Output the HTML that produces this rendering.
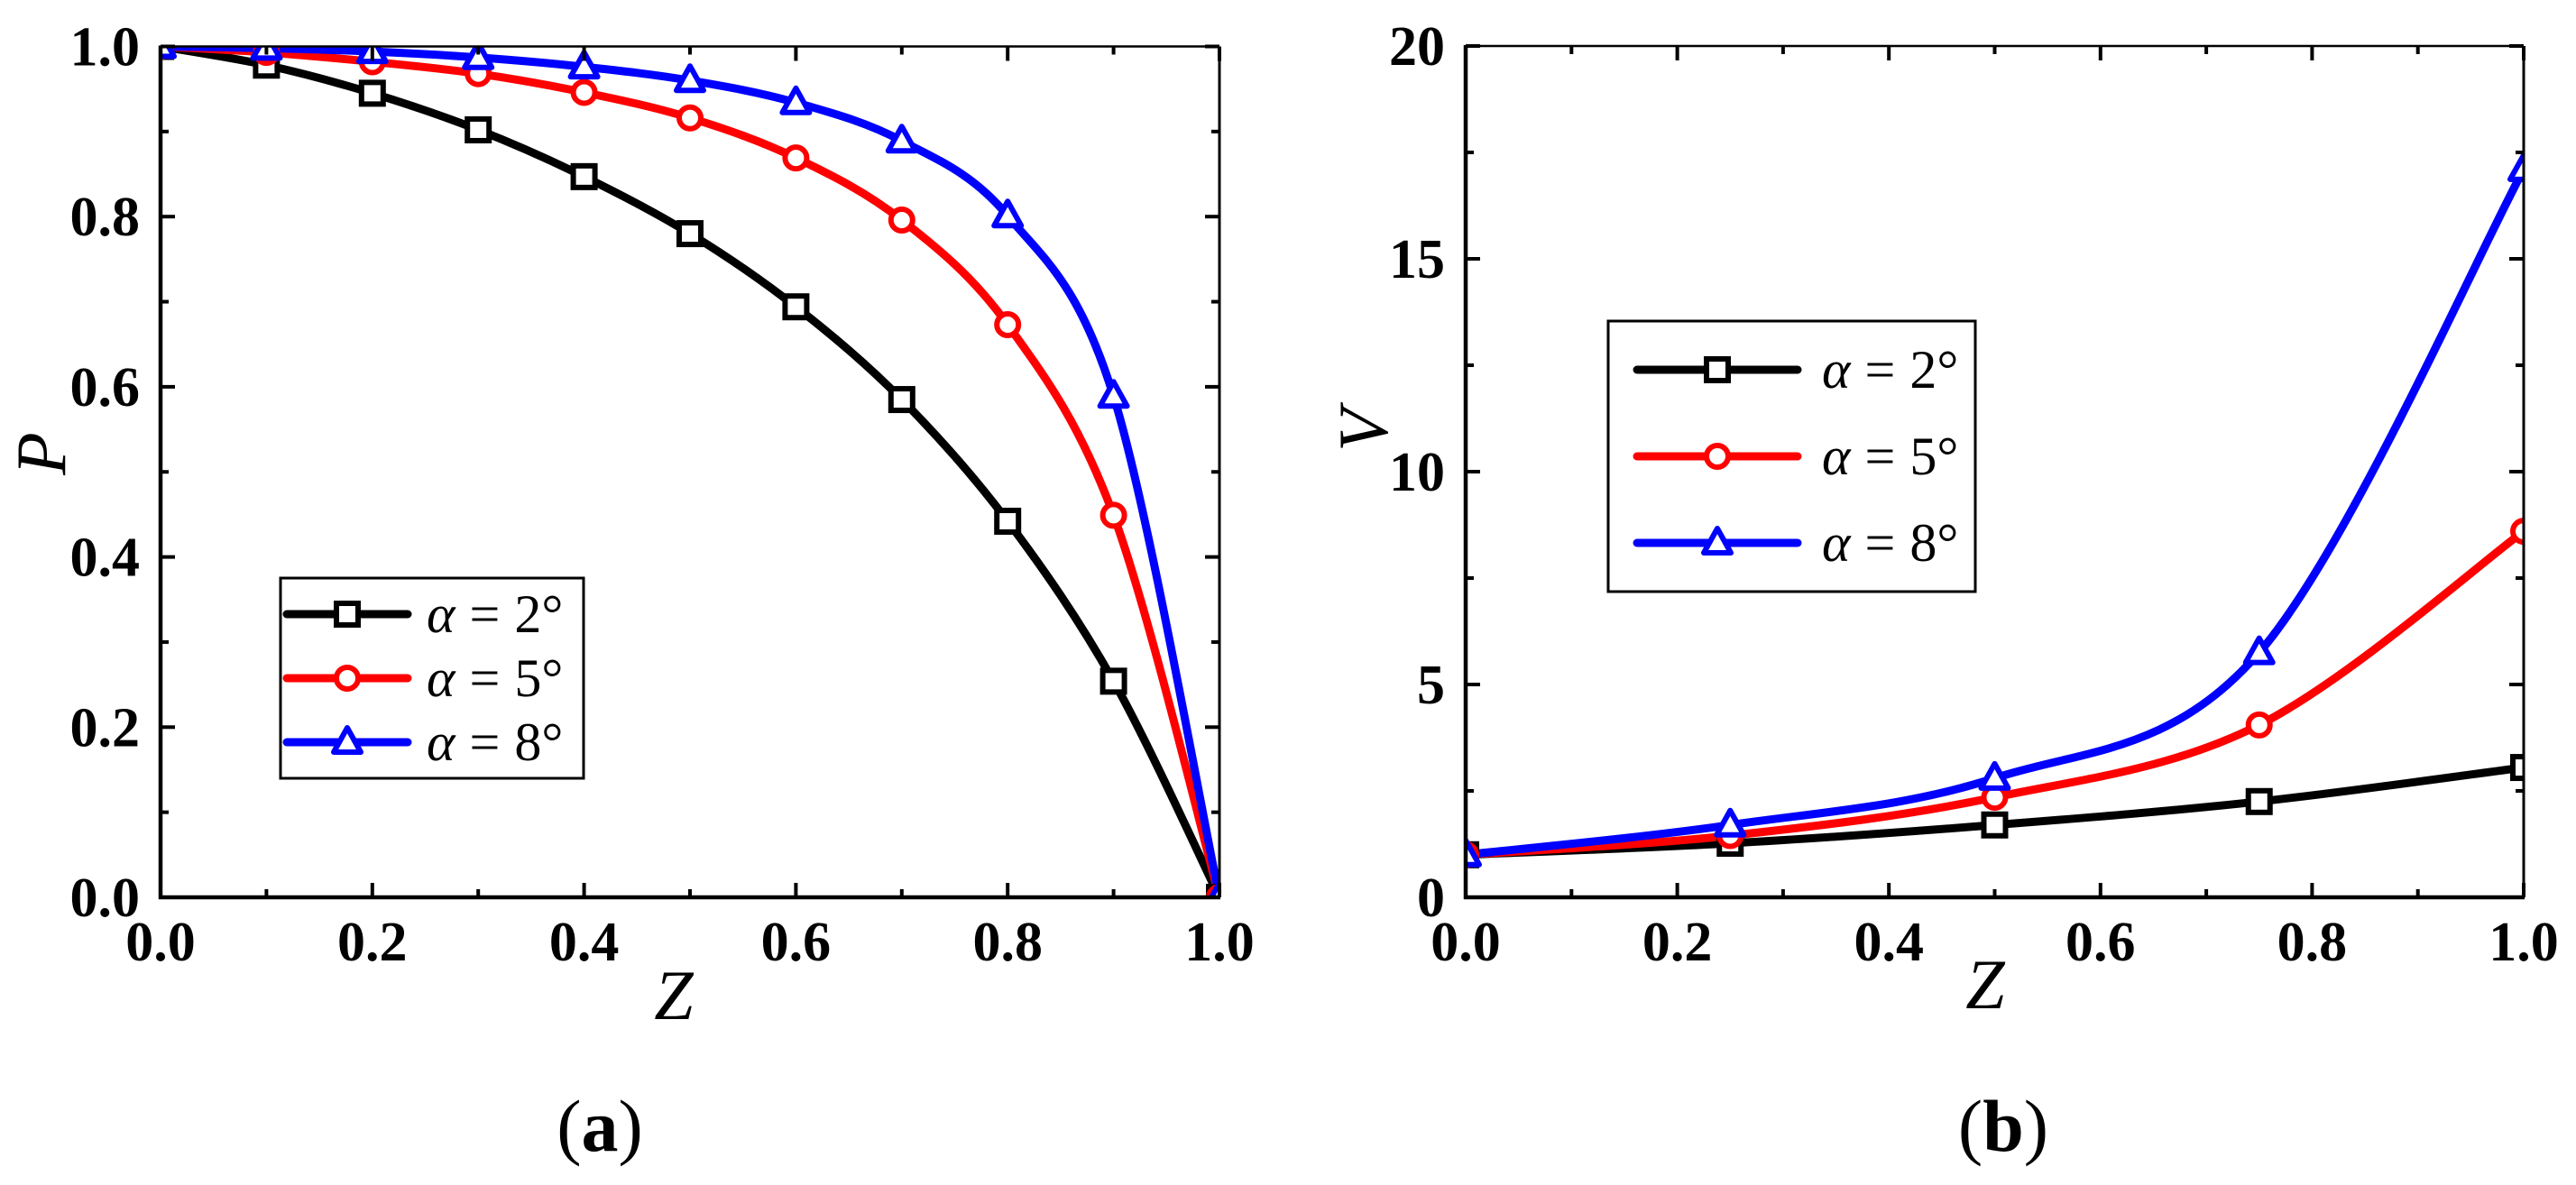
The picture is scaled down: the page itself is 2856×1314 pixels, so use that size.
<!DOCTYPE html>
<html><head><meta charset="utf-8"><style>
html,body{margin:0;padding:0;background:#fff;}
svg{display:block;}
text{font-family:"Liberation Serif",serif;}
</style></head><body>
<svg id="fig" width="2856" height="1314" viewBox="0 0 2856 1314" xmlns="http://www.w3.org/2000/svg">
<defs>
<clipPath id="clipA"><rect x="178" y="51" width="1174" height="944"/></clipPath>
<clipPath id="clipB"><rect x="1625" y="51" width="1173" height="944"/></clipPath>
</defs>
<g id="panelA"></g>
<g id="panelB"></g>
</svg>
<script>
const NS="http://www.w3.org/2000/svg";
// Panel (a) data
const zA=[0,0.1,0.2,0.3,0.4,0.5,0.6,0.7,0.8,0.9,1.0];
const pA2=[1.0,0.978,0.945,0.902,0.847,0.780,0.694,0.585,0.442,0.254,0.0];
const pA5=[1.0,0.993,0.982,0.968,0.946,0.916,0.869,0.796,0.673,0.449,0.0];
const pA8=[1.0,0.998,0.994,0.987,0.976,0.960,0.934,0.889,0.801,0.589,0.0];
const xTicksA=[0,0.2,0.4,0.6,0.8,1.0];
const xTickLabelsA=["0.0","0.2","0.4","0.6","0.8","1.0"];
const yTicksA=[0,0.2,0.4,0.6,0.8,1.0];
const yTickLabelsA=["0.0","0.2","0.4","0.6","0.8","1.0"];
// Panel (b) data
const zB=[0,0.25,0.5,0.75,1.0];
const vB2=[1.0,1.27,1.7,2.25,3.05];
const vB5=[1.0,1.45,2.35,4.05,8.6];
const vB8=[1.0,1.7,2.8,5.75,17.1];
const xTicksB=[0,0.2,0.4,0.6,0.8,1.0];
const xTickLabelsB=["0.0","0.2","0.4","0.6","0.8","1.0"];
const yTicksB=[0,5,10,15,20];
const yTickLabelsB=["0","5","10","15","20"];
const legendValues=["2°","5°","8°"];

function el(tag,attrs,parent){const e=document.createElementNS(NS,tag);for(const k in attrs)e.setAttribute(k,attrs[k]);parent.appendChild(e);return e;}

function smoothPath(pts){
  let d="M"+pts[0][0]+","+pts[0][1];
  for(let i=0;i<pts.length-1;i++){
    const p0=pts[i-1]||pts[i],p1=pts[i],p2=pts[i+1],p3=pts[i+2]||pts[i+1];
    const c1=[p1[0]+(p2[0]-p0[0])/6,p1[1]+(p2[1]-p0[1])/6];
    const c2=[p2[0]-(p3[0]-p1[0])/6,p2[1]-(p3[1]-p1[1])/6];
    d+=" C"+c1[0]+","+c1[1]+" "+c2[0]+","+c2[1]+" "+p2[0]+","+p2[1];
  }
  return d;
}

function marker(type,x,y,color,parent){
  let m;
  if(type==="square"){m=el("rect",{x:x-12,y:y-12,width:24,height:24,fill:"#fff",stroke:color,"stroke-width":6},parent);}
  else if(type==="circle"){m=el("circle",{cx:x,cy:y,r:12,fill:"#fff",stroke:color,"stroke-width":6},parent);}
  else {m=el("polygon",{points:(x)+","+(y-16)+" "+(x+15)+","+(y+11)+" "+(x-15)+","+(y+11),fill:"#fff",stroke:color,"stroke-width":6,"stroke-linejoin":"round"},parent);}
  return m;
}

function buildPanel(cfg){
  const g=document.getElementById(cfg.id);
  const L=cfg.L,R=cfg.R,T=cfg.T,B=cfg.B;
  const sx=v=>L+(v-cfg.xmin)/(cfg.xmax-cfg.xmin)*(R-L);
  const sy=v=>B-(v-cfg.ymin)/(cfg.ymax-cfg.ymin)*(B-T);
  const sg=el("g",{"clip-path":"url(#"+cfg.clip+")"},g);
  
  
  cfg.series.forEach((s)=>{
    const pts=s.vals.map((v,i)=>[sx(cfg.xs[i]),sy(v)]);
    const p=el("path",{d:smoothPath(pts),fill:"none",stroke:s.color,"stroke-width":9,"stroke-linejoin":"round","stroke-linecap":"round"},sg);
    
    
  });
  cfg.series.forEach((s)=>{
    s.vals.forEach((v,i)=>{
      const m=marker(s.marker,sx(cfg.xs[i]),sy(v),s.color,sg);
      
      
    });
  });
  const fr=el("g",{},g);
  
  
  el("line",{x1:L,y1:T,x2:R,y2:T,stroke:"#000","stroke-width":2.5},fr);
  el("line",{x1:R,y1:T,x2:R,y2:B,stroke:"#000","stroke-width":3},fr);
  el("line",{x1:L,y1:T-1,x2:L,y2:B+2,stroke:"#000","stroke-width":4.5},fr);
  el("line",{x1:L-2,y1:B,x2:R+1,y2:B,stroke:"#000","stroke-width":4.5},fr);
  const tg=el("g",{stroke:"#000","stroke-width":4},g);
  
  
  const xStep=cfg.xTicks[1]-cfg.xTicks[0], yStep=cfg.yTicks[1]-cfg.yTicks[0];
  for(let i=0;i<cfg.xTicks.length;i++){
    const x=sx(cfg.xTicks[i]);
    el("line",{x1:x,y1:B,x2:x,y2:B-16},tg);el("line",{x1:x,y1:T,x2:x,y2:T+16},tg);
    if(i<cfg.xTicks.length-1){const xm=sx(cfg.xTicks[i]+xStep/2);
      el("line",{x1:xm,y1:B,x2:xm,y2:B-9},tg);el("line",{x1:xm,y1:T,x2:xm,y2:T+9},tg);}
  }
  for(let i=0;i<cfg.yTicks.length;i++){
    const y=sy(cfg.yTicks[i]);
    el("line",{x1:L,y1:y,x2:L+16,y2:y},tg);el("line",{x1:R,y1:y,x2:R-16,y2:y},tg);
    if(i<cfg.yTicks.length-1){const ym=sy(cfg.yTicks[i]+yStep/2);
      el("line",{x1:L,y1:ym,x2:L+9,y2:ym},tg);el("line",{x1:R,y1:ym,x2:R-9,y2:ym},tg);}
  }
  cfg.xTicks.forEach((v,i)=>{
    const t=el("text",{x:sx(v),y:1065,"text-anchor":"middle","font-size":62,"font-weight":"bold"},g);
    t.textContent=cfg.xLabels[i];
    
    
  });
  cfg.yTicks.forEach((v,i)=>{
    const t=el("text",{x:L-23,y:sy(v)+21,"text-anchor":"end","font-size":62,"font-weight":"bold"},g);
    t.textContent=cfg.yLabels[i];
    
    
  });
  const xt=el("text",{x:cfg.xTitle[0],y:cfg.xTitle[1],"text-anchor":"middle","font-size":78,"font-style":"italic"},g);
  xt.textContent="Z";
  
  
  const yt=el("text",{x:0,y:0,"text-anchor":"middle","font-size":78,"font-style":"italic",transform:"translate("+cfg.yTitle[0]+","+cfg.yTitle[1]+") rotate(-90)"},g);
  yt.textContent=cfg.yName;
  
  
  const pl=el("text",{x:cfg.pLabel,y:1276,"text-anchor":"middle","font-size":82},g);
  pl.innerHTML='(<tspan font-weight="bold">'+cfg.letter+'</tspan>)';
  
  
  const lg=el("g",{},g);
  
  
  const lb=cfg.legend;
  el("rect",{x:lb.x,y:lb.y,width:lb.w,height:lb.h,fill:"#fff",stroke:"#000","stroke-width":3},lg);
  cfg.series.forEach((s,i)=>{
    const y=lb.rows[i];
    const eg=el("g",{},lg);
    
    
    el("line",{x1:lb.l1,y1:y,x2:lb.l2,y2:y,stroke:s.color,"stroke-width":9,"stroke-linecap":"round"},eg);
    marker(s.marker,(lb.l1+lb.l2)/2,y,s.color,eg);
    const t=el("text",{x:lb.tx,y:y+20,"font-size":60,"xml:space":"preserve"},eg);
    t.innerHTML='<tspan font-style="italic">α</tspan><tspan dx="16">=</tspan><tspan dx="16">'+legendValues[i]+'</tspan>';
  });
}

buildPanel({id:"panelA",clip:"clipA",L:178,R:1352,T:51.5,B:995,xmin:0,xmax:1,ymin:0,ymax:1,
  xs:zA,xTicks:xTicksA,xLabels:xTickLabelsA,yTicks:yTicksA,yLabels:yTickLabelsA,
  series:[{name:"alpha-2",vals:pA2,color:"#000",marker:"square"},{name:"alpha-5",vals:pA5,color:"#ff0000",marker:"circle"},{name:"alpha-8",vals:pA8,color:"#0000ff",marker:"triangle"}],
  xTitle:[747,1130],yTitle:[72,503],yName:"P",pLabel:665,letter:"a",
  legend:{x:311,y:641,w:336,h:222,rows:[681,752,823],l1:318,l2:452,tx:473}});
buildPanel({id:"panelB",clip:"clipB",L:1625,R:2798,T:51,B:995,xmin:0,xmax:1,ymin:0,ymax:20,
  xs:zB,xTicks:xTicksB,xLabels:xTickLabelsB,yTicks:yTicksB,yLabels:yTickLabelsB,
  series:[{name:"alpha-2",vals:vB2,color:"#000",marker:"square"},{name:"alpha-5",vals:vB5,color:"#ff0000",marker:"circle"},{name:"alpha-8",vals:vB8,color:"#0000ff",marker:"triangle"}],
  xTitle:[2201,1118],yTitle:[1538,477],yName:"V",pLabel:2221,letter:"b",
  legend:{x:1783,y:356,w:407,h:300,rows:[410,506,602],l1:1815,l2:1993,tx:2020}});
</script>
</body></html>
